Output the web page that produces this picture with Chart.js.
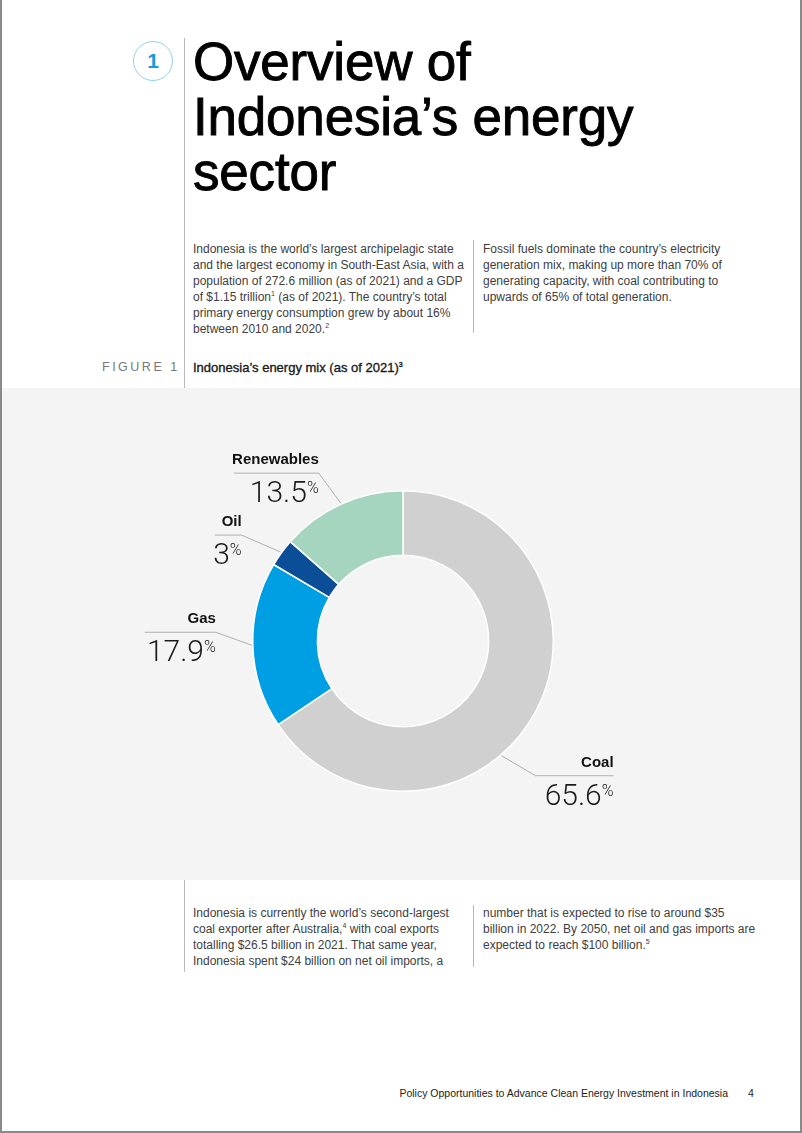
<!DOCTYPE html>
<html>
<head>
<meta charset="utf-8">
<script src="https://cdn.jsdelivr.net/npm/chart.js@4"></script>
<style>
  html, body { margin: 0; padding: 0; }
  body { width: 802px; height: 1133px; position: relative; background: #fff; overflow: hidden;
         font-family: "Liberation Sans", Arial, sans-serif; }
  .frame { position: absolute; left: 0; top: 0; width: 798px; height: 1131px; z-index: 5; pointer-events: none;
           border-left: 2px solid #8a8a8a; border-right: 2px solid #8a8a8a; border-bottom: 2px solid #8a8a8a; }
  .abs { position: absolute; }
  .vline { position: absolute; width: 1px; background: #b9b9b9; }
  .num { left: 133px; top: 41px; width: 38px; height: 38px; border: 1px solid #8fd3ee; border-radius: 50%;
         color: #149cd8; font-weight: bold; font-size: 21px; text-align: center; line-height: 38px; }
  .title { left: 193px; top: 34px; font-size: 53px; line-height: 55px; color: #000; letter-spacing: -0.2px;
           -webkit-text-stroke: 0.9px #000; }
  .body { font-size: 12px; line-height: 16px; color: #404040; white-space: nowrap; }
  .body sup { font-size: 7px; vertical-align: 5px; line-height: 0; }
  .fig { left: 102px; top: 360px; font-size: 12.5px; color: #777; letter-spacing: 2.5px; }
  .figt { left: 193px; top: 360px; font-size: 13px; color: #1a1a1a; -webkit-text-stroke: 0.35px #1a1a1a; }
  .figt sup { font-size: 7px; vertical-align: 5px; line-height: 0; }
  .band { left: 0; top: 388px; width: 802px; height: 492px; background: #f4f4f4; }
  .foot { top: 1087px; font-size: 10.5px; color: #222; white-space: nowrap; }
</style>
</head>
<body>
<div class="frame"></div>

<div class="abs num">1</div>
<div class="vline" style="left:184px; top:38px; height:350px;"></div>
<div class="abs title">Overview of<br>Indonesia’s energy<br>sector</div>

<div class="abs body" style="left:193px; top:241px;">Indonesia is the world’s largest archipelagic state<br>and the largest economy in South-East Asia, with a<br>population of 272.6 million (as of 2021) and a GDP<br>of $1.15 trillion<sup>1</sup> (as of 2021). The country’s total<br>primary energy consumption grew by about 16%<br>between 2010 and 2020.<sup>2</sup></div>
<div class="vline" style="left:473px; top:240px; height:93px;"></div>
<div class="abs body" style="left:483px; top:241px;">Fossil fuels dominate the country’s electricity<br>generation mix, making up more than 70% of<br>generating capacity, with coal contributing to<br>upwards of 65% of total generation.</div>

<div class="abs fig">FIGURE 1</div>
<div class="abs figt">Indonesia’s energy mix (as of 2021)<sup>3</sup></div>

<div class="abs band"><canvas id="energyChart" width="802" height="492"></canvas></div>

<div class="vline" style="left:184px; top:880px; height:92px;"></div>
<div class="abs body" style="left:193px; top:905px;">Indonesia is currently the world’s second-largest<br>coal exporter after Australia,<sup>4</sup> with coal exports<br>totalling $26.5 billion in 2021. That same year,<br>Indonesia spent $24 billion on net oil imports, a</div>
<div class="vline" style="left:473px; top:905px; height:62px;"></div>
<div class="abs body" style="left:483px; top:905px;">number that is expected to rise to around $35<br>billion in 2022. By 2050, net oil and gas imports are<br>expected to reach $100 billion.<sup>5</sup></div>

<div class="abs foot" style="right:74px;">Policy Opportunities to Advance Clean Energy Investment in Indonesia</div>
<div class="abs foot" style="left:748px;">4</div>

<script>
const sources = ['Coal', 'Gas', 'Oil', 'Renewables'];
const shares = [65.6, 17.9, 3, 13.5];
const sliceColors = ['#d0d0d0', '#009fe3', '#0b4e98', '#a6d5bf'];

// where each leader line leaves its slice and bends (styling only)
const leaders = [
    { frac: 0.59, dx: 34, dy: 20, len: 78 },
    { frac: 0.5, dx: -36, dy: -13, len: -71 },
    { frac: 0.5, dx: -39, dy: -17, len: -27 },
    { frac: 0.5, dx: -22, dy: -30, len: -85 },
];

const leaderLabels = {
    id: 'leaderLabels',
    afterDatasetsDraw(chart) {
        const ctx = chart.ctx;
        const arcs = chart.getDatasetMeta(0).data;
        arcs.forEach((arc, i) => {
            const p = arc.getProps(['x', 'y', 'startAngle', 'endAngle', 'outerRadius'], true);
            const l = leaders[i];
            const a = p.startAngle + l.frac * (p.endAngle - p.startAngle);
            const ax = p.x + (p.outerRadius + 1) * Math.cos(a);
            const ay = p.y + (p.outerRadius + 1) * Math.sin(a);
            const ex = ax + l.dx, ey = ay + l.dy;
            const hx = ex + l.len;
            ctx.save();
            ctx.strokeStyle = '#a0a0a0';
            ctx.lineWidth = 0.8;
            ctx.beginPath();
            ctx.moveTo(ax, ay);
            ctx.lineTo(ex, ey);
            ctx.lineTo(hx, ey);
            ctx.stroke();

            const right = Math.max(ex, hx);
            ctx.textAlign = 'right';
            ctx.textBaseline = 'alphabetic';
            ctx.fillStyle = '#111';
            ctx.font = 'bold 15px "Liberation Sans", Arial, sans-serif';
            ctx.fillText(sources[i], right, ey - 9);

            ctx.fillStyle = '#1a1a1a';
            ctx.font = '300 16px Roboto, "Liberation Sans", sans-serif';
            const pw = ctx.measureText('%').width;
            ctx.fillText('%', right, ey + 20);
            ctx.font = '300 30px Roboto, "Liberation Sans", sans-serif';
            ctx.fillText(String(shares[i]), right - pw, ey + 29);
            ctx.restore();
        });
    }
};

const ctx = document.getElementById('energyChart').getContext('2d');

const energyChart = new Chart(ctx, {
    type: 'doughnut',
    data: {
        labels: sources,
        datasets: [{
            data: shares,
            backgroundColor: sliceColors,
            borderColor: '#ffffff',
            borderWidth: 1.5,
        }],
    },
    options: {
        responsive: false,
        animation: false,
        cutout: '57%',
        layout: { padding: { left: 4, right: 0, top: 102, bottom: 88 } },
        plugins: {
            legend: { display: false },
            tooltip: { enabled: false },
        },
    },
    plugins: [leaderLabels],
});
</script>
</body>
</html>
